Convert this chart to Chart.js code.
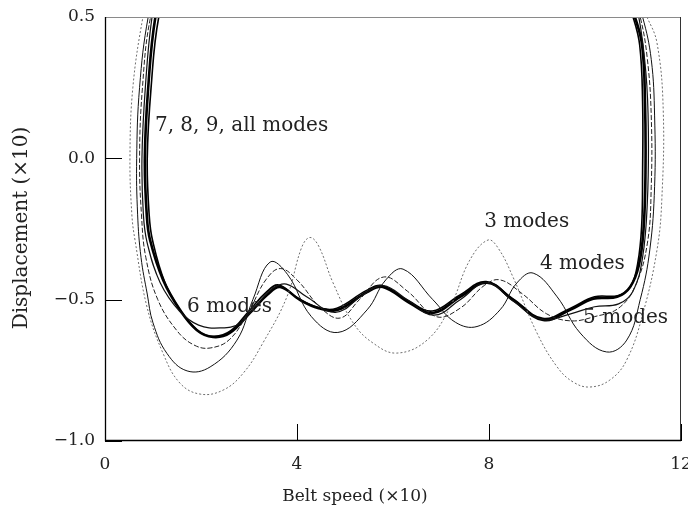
<!DOCTYPE html>
<html lang="en">
<head>
    <meta charset="UTF-8">
    <title>Displacement vs belt speed</title>
    <script src="https://cdn.jsdelivr.net/npm/chart.js"></script>
    <style>
        body {
            margin: 0;
            background: #ffffff;
        }
        .wrap {
            width: 688px;
            height: 510px;
        }
    </style>
</head>
<body>
    <div class="wrap"><canvas id="chart"></canvas></div>

    <script>
        // values (belt speed x, displacement y)
        const allModesX = [1.2, 1.05, 0.9, 0.83, 0.87, 0.94, 1.21, 1.56, 1.91, 2.25, 2.6, 3.02, 3.38, 3.65, 4.06, 4.45, 4.85, 5.46, 5.79, 6.35, 6.83, 7.4, 7.96, 8.5, 9.13, 9.69, 10.17, 10.67, 10.94, 11.12, 11.22, 11.26, 11.25, 11.19, 11.04, 10.9];
        const allModesY = [0.56, 0.5, 0.25, 0.0, -0.2, -0.29, -0.43, -0.536, -0.607, -0.632, -0.618, -0.547, -0.483, -0.455, -0.501, -0.53, -0.536, -0.473, -0.455, -0.512, -0.547, -0.49, -0.44, -0.501, -0.572, -0.536, -0.497, -0.49, -0.455, -0.38, -0.25, -0.05, 0.2, 0.4, 0.5, 0.56];

        const sevenModesX = [1.3, 1.12, 0.96, 0.88, 0.92, 0.99, 1.25, 1.6, 1.95, 2.28, 2.62, 3.0, 3.35, 3.62, 4.02, 4.45, 4.83, 5.44, 5.77, 6.33, 6.82, 7.38, 7.94, 8.5, 9.12, 9.7, 10.2, 10.7, 10.96, 11.1, 11.18, 11.2, 11.2, 11.14, 11.0, 10.85];
        const sevenModesY = [0.56, 0.5, 0.25, 0.0, -0.2, -0.29, -0.44, -0.545, -0.612, -0.63, -0.61, -0.54, -0.475, -0.448, -0.495, -0.528, -0.53, -0.468, -0.45, -0.505, -0.54, -0.485, -0.436, -0.497, -0.566, -0.53, -0.49, -0.485, -0.45, -0.37, -0.24, -0.05, 0.2, 0.4, 0.5, 0.56];

        const sixModesX = [1.1, 0.98, 0.84, 0.77, 0.8, 0.88, 1.15, 1.55, 1.95, 2.4, 2.8, 3.15, 3.5, 3.78, 4.2, 4.8, 5.4, 5.8, 6.3, 6.85, 7.4, 7.95, 8.5, 9.1, 9.7, 10.2, 10.7, 11.0, 11.2, 11.3, 11.32, 11.27, 11.12, 10.98];
        const sixModesY = [0.56, 0.5, 0.25, 0.0, -0.2, -0.3, -0.44, -0.54, -0.59, -0.6, -0.585, -0.52, -0.46, -0.445, -0.49, -0.545, -0.48, -0.45, -0.5, -0.555, -0.5, -0.44, -0.505, -0.57, -0.55, -0.525, -0.515, -0.47, -0.35, -0.15, 0.1, 0.3, 0.5, 0.56];

        const fiveModesX = [1.15, 0.95, 0.78, 0.72, 0.76, 0.85, 1.1, 1.5, 1.85, 2.19, 2.6, 3.0, 3.35, 3.65, 4.0, 4.5, 4.9, 5.3, 5.8, 6.3, 6.9, 7.4, 7.9, 8.23, 8.7, 9.2, 9.7, 10.2, 10.7, 11.05, 11.3, 11.38, 11.38, 11.3, 11.15, 11.0];
        const fiveModesY = [0.56, 0.5, 0.25, 0.0, -0.2, -0.35, -0.5, -0.61, -0.66, -0.671, -0.64, -0.54, -0.43, -0.39, -0.43, -0.53, -0.565, -0.5, -0.42, -0.47, -0.56, -0.53, -0.45, -0.43, -0.48, -0.55, -0.575, -0.56, -0.53, -0.45, -0.3, -0.1, 0.15, 0.35, 0.5, 0.56];

        const fourModesX = [1.05, 0.9, 0.72, 0.66, 0.68, 0.75, 0.88, 1.0, 1.29, 1.71, 2.19, 2.75, 3.08, 3.44, 3.8, 4.3, 4.85, 5.46, 5.85, 6.21, 6.83, 7.3, 7.75, 8.23, 8.58, 8.92, 9.42, 9.9, 10.45, 10.87, 11.15, 11.35, 11.45, 11.45, 11.38, 11.2, 11.05];
        const fourModesY = [0.56, 0.5, 0.25, 0.0, -0.2, -0.35, -0.48, -0.582, -0.69, -0.752, -0.738, -0.643, -0.5, -0.367, -0.41, -0.56, -0.616, -0.536, -0.43, -0.392, -0.5, -0.58, -0.595, -0.536, -0.441, -0.406, -0.49, -0.618, -0.685, -0.643, -0.5, -0.324, -0.1, 0.15, 0.35, 0.5, 0.56];

        const threeModesX = [0.9, 0.79, 0.58, 0.52, 0.56, 0.625, 0.875, 1.21, 1.56, 1.98, 2.46, 2.88, 3.29, 3.79, 4.1, 4.27, 4.45, 4.75, 5.17, 5.58, 6.08, 6.71, 7.19, 7.6, 7.98, 8.2, 8.5, 9.0, 9.42, 9.75, 10.1, 10.52, 10.87, 11.21, 11.5, 11.6, 11.63, 11.5, 11.29, 11.1];
        const threeModesY = [0.56, 0.5, 0.25, 0.0, -0.2, -0.289, -0.526, -0.69, -0.795, -0.834, -0.82, -0.76, -0.653, -0.49, -0.314, -0.28, -0.31, -0.44, -0.582, -0.653, -0.689, -0.643, -0.526, -0.36, -0.289, -0.32, -0.42, -0.618, -0.738, -0.791, -0.809, -0.784, -0.713, -0.547, -0.324, -0.147, 0.17, 0.408, 0.5, 0.56];

        const xTicks = [0, 4, 8, 12];
        const yTicks = [-1.0, -0.5, 0.0, 0.5];

        const labelTexts = ["7, 8, 9, all modes", "6 modes", "3 modes", "4 modes", "5 modes"];
        const labelX = [1.04, 1.71, 7.9, 9.06, 9.96];
        const labelY = [0.114, -0.526, -0.225, -0.374, -0.565];

        const SERIF = "'DejaVu Serif', 'Liberation Serif', serif";

        function pts(xs, ys) {
            return xs.map((x, i) => ({ x: x, y: ys[i] }));
        }

        function line(label, xs, ys, color, width, dash) {
            return {
                label: label,
                data: pts(xs, ys),
                borderColor: color,
                borderWidth: width,
                borderDash: dash,
                pointRadius: 0,
                tension: 0.4,
                fill: false,
                clip: 0
            };
        }

        // frame, inward ticks, annotations and axis titles
        const decor = {
            id: 'decor',
            afterDatasetsDraw(chart) {
                const ctx = chart.ctx;
                const a = chart.chartArea;
                const xs = chart.scales.x;
                const ys = chart.scales.y;
                ctx.save();

                ctx.strokeStyle = '#000';
                ctx.lineWidth = 1;
                xTicks.forEach(v => {
                    const px = Math.round(xs.getPixelForValue(v)) + 0.5;
                    ctx.beginPath();
                    ctx.moveTo(px, a.bottom);
                    ctx.lineTo(px, a.bottom - 17);
                    ctx.stroke();
                });
                yTicks.forEach(v => {
                    const py = Math.round(ys.getPixelForValue(v)) + 0.5;
                    ctx.beginPath();
                    ctx.moveTo(a.left, py);
                    ctx.lineTo(a.left + 17, py);
                    ctx.stroke();
                });

                ctx.lineWidth = 1;
                ctx.strokeStyle = '#8a8a8a';
                ctx.beginPath();
                ctx.moveTo(a.left, a.top + 0.5);
                ctx.lineTo(a.right, a.top + 0.5);
                ctx.stroke();
                ctx.strokeStyle = '#333';
                ctx.beginPath();
                ctx.moveTo(a.right - 0.5, a.top);
                ctx.lineTo(a.right - 0.5, a.bottom);
                ctx.stroke();
                ctx.strokeStyle = '#000';
                ctx.lineWidth = 1.3;
                ctx.beginPath();
                ctx.moveTo(a.left + 0.5, a.top);
                ctx.lineTo(a.left + 0.5, a.bottom - 0.5);
                ctx.lineTo(a.right, a.bottom - 0.5);
                ctx.stroke();

                ctx.fillStyle = '#222';
                ctx.font = '20px ' + SERIF;
                ctx.textAlign = 'left';
                ctx.textBaseline = 'middle';
                labelTexts.forEach((t, i) => {
                    ctx.fillText(t, xs.getPixelForValue(labelX[i]), ys.getPixelForValue(labelY[i]));
                });

                ctx.font = '17px ' + SERIF;
                ctx.textAlign = 'center';
                ctx.fillText('Belt speed (×10)', a.left + 250, 497);
                ctx.font = '20px ' + SERIF;
                ctx.translate(22, (a.top + a.bottom) / 2 - 1);
                ctx.rotate(-Math.PI / 2);
                ctx.fillText('Displacement (×10)', 0, 0);
                ctx.restore();
            }
        };

        new Chart(document.getElementById('chart').getContext('2d'), {
            type: 'line',
            data: {
                datasets: [
                    line('3 modes', threeModesX, threeModesY, '#6e6e6e', 1, [2, 2]),
                    line('4 modes', fourModesX, fourModesY, '#111', 1, []),
                    line('5 modes', fiveModesX, fiveModesY, '#222', 1, [5, 2]),
                    line('6 modes', sixModesX, sixModesY, '#111', 1.2, []),
                    line('7 modes', sevenModesX, sevenModesY, '#000', 1.6, []),
                    line('all modes', allModesX, allModesY, '#000', 2.6, [])
                ]
            },
            options: {
                responsive: true,
                maintainAspectRatio: false,
                animation: false,
                layout: { padding: { top: 17, right: 7, left: 0, bottom: 0 } },
                plugins: {
                    legend: { display: false },
                    tooltip: { enabled: false }
                },
                scales: {
                    x: {
                        type: 'linear',
                        min: 0,
                        max: 12,
                        afterBuildTicks: s => { s.ticks = xTicks.map(v => ({ value: v })); },
                        afterFit: s => { s.height = 69; s.paddingLeft = 0; s.paddingRight = 0; },
                        grid: { display: false, drawTicks: false },
                        border: { display: false },
                        ticks: {
                            padding: 13,
                            color: '#222',
                            font: { family: SERIF, size: 17 },
                            maxRotation: 0
                        }
                    },
                    y: {
                        type: 'linear',
                        min: -1,
                        max: 0.5,
                        afterBuildTicks: s => { s.ticks = yTicks.map(v => ({ value: v })); },
                        afterFit: s => { s.width = 105; s.paddingTop = 0; s.paddingBottom = 0; },
                        grid: { display: false, drawTicks: false },
                        border: { display: false },
                        ticks: {
                            padding: 10,
                            color: '#222',
                            font: { family: SERIF, size: 17 },
                            callback: v => (v < 0 ? '\u2212' : '') + Math.abs(v).toFixed(1)
                        }
                    }
                }
            },
            plugins: [decor]
        });
    </script>
</body>
</html>
